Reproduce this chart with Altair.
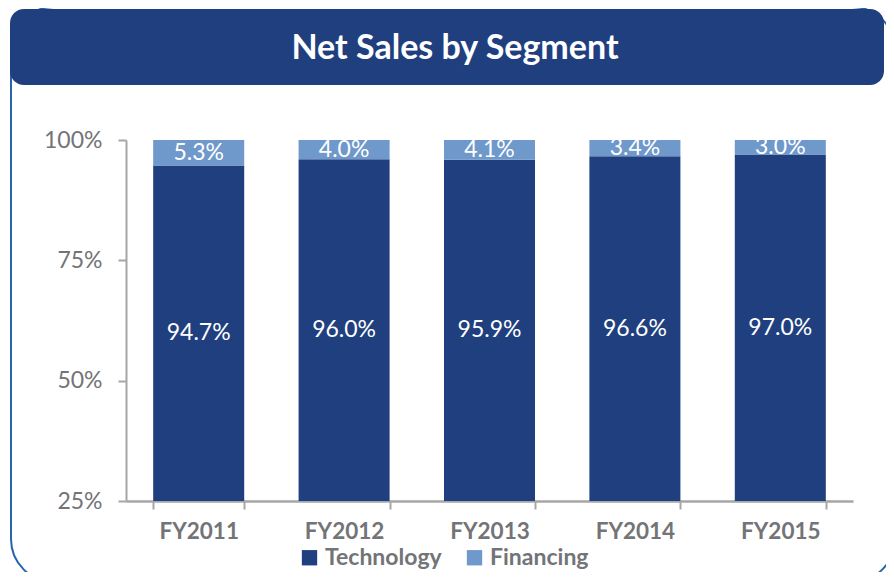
import altair as alt
import pandas as pd

# ---- data ----
years = ["FY2011", "FY2012", "FY2013", "FY2014", "FY2015"]
technology = [94.7, 96.0, 95.9, 96.6, 97.0]
financing = [5.3, 4.0, 4.1, 3.4, 3.0]
segments = ["Technology", "Financing"]
y_ticks = [25, 50, 75, 100]
y_domain = [25, 100]
title_text = "Net Sales by Segment"

rows = []
for i, yr in enumerate(years):
    rows.append({"year": yr, "segment": "Technology", "value": technology[i], "order": 0})
    rows.append({"year": yr, "segment": "Financing", "value": financing[i], "order": 1})
df = pd.DataFrame(rows)

FONT = "Lato"
DARK = "#203F7F"
LIGHT = "#6F98CB"
AXIS_GRAY = "#A6A6A6"
TEXT_GRAY = "#727477"
FRAME_BLUE = "#2864AE"

x_enc = alt.X(
    "year:N",
    sort=years,
    scale=alt.Scale(paddingInner=0.374, paddingOuter=0.187),
    axis=alt.Axis(
        title=None, labelAngle=0, labelFont=FONT, labelFontWeight="bold",
        labelFontSize=22.5, labelColor=TEXT_GRAY, labelPadding=11,
        tickSize=8, tickColor=AXIS_GRAY, tickWidth=2,
        domainColor=AXIS_GRAY, domainWidth=2.5, tickBand="extent", grid=False,
    ),
)

y_enc = alt.Y(
    "value:Q",
    stack="zero",
    scale=alt.Scale(domain=y_domain, nice=False, zero=False),
    axis=alt.Axis(
        title=None, values=y_ticks, labelExpr="datum.value + '%'",
        labelFont=FONT, labelFontSize=23, labelColor=TEXT_GRAY, labelPadding=16,
        tickSize=8, tickColor=AXIS_GRAY, tickWidth=2,
        domainColor=AXIS_GRAY, domainWidth=2, grid=False,
    ),
)

bars = alt.Chart(df).mark_bar(clip=True).encode(
    x=x_enc,
    y=y_enc,
    color=alt.Color(
        "segment:N",
        scale=alt.Scale(domain=segments, range=[DARK, LIGHT]),
        legend=alt.Legend(
            orient="none", legendX=172, legendY=406, direction="horizontal",
            title=None, symbolType="square", symbolSize=235, symbolStrokeWidth=0,
            labelFont=FONT, labelFontSize=23, labelFontWeight="bold",
            labelColor=TEXT_GRAY, columnPadding=21, labelOffset=4, padding=0,
        ),
    ),
    order=alt.Order("order:Q"),
)

labels = alt.Chart(df).transform_stack(
    stack="value", groupby=["year"], as_=["v0", "v1"],
    sort=[alt.SortField("order")],
).transform_calculate(
    pos=f"(max(datum.v0, {y_domain[0]}) + datum.v1) / 2",
    label="format(datum.value, '.1f') + '%'",
).mark_text(font=FONT, fontSize=23, color="white", baseline="middle").encode(
    x=alt.X("year:N", sort=years, title=None),
    y=alt.Y("pos:Q", title=None),
    text="label:N",
)

frame = alt.Chart(pd.DataFrame({"k": [0]})).mark_rect(
    fill="transparent", stroke=FRAME_BLUE, strokeWidth=2, cornerRadius=43
).encode(
    x=alt.value(-115), x2=alt.value(769), y=alt.value(-133), y2=alt.value(442)
)

banner = alt.Chart(pd.DataFrame({"k": [0]})).mark_rect(
    fill=DARK, cornerRadius=14
).encode(
    x=alt.value(-116), x2=alt.value(758), y=alt.value(-131), y2=alt.value(-55)
)

title = alt.Chart(pd.DataFrame({"t": [title_text]})).mark_text(
    font=FONT, fontSize=34, fontWeight="bold", color="white",
    align="center", baseline="middle",
).encode(x=alt.value(329), y=alt.value(-91), text="t:N")

chart = alt.layer(frame, banner, bars, labels, title).properties(
    width=727,
    height=361,
    autosize=alt.AutoSizeParams(type="none"),
    padding={"left": 118, "top": 132, "right": 33, "bottom": 71},
).configure_view(stroke=None)

chart.save("out.html", embed_options={"renderer": "svg", "actions": False})
